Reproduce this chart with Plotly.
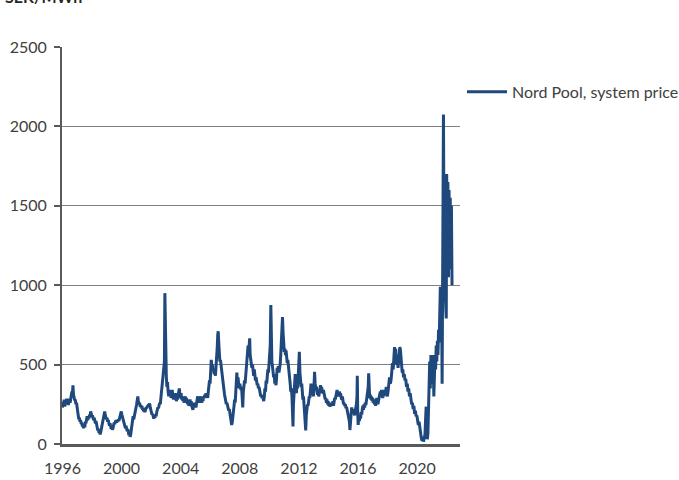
import plotly.graph_objects as go

# ---- data (decimal years, SEK/MWh) ----
years_1996_1999 = [
    1996.00, 1996.04, 1996.08, 1996.12, 1996.16, 1996.20, 1996.24, 1996.28, 1996.32, 1996.36, 1996.40, 1996.44, 1996.48,
    1996.52, 1996.56, 1996.60, 1996.64, 1996.68, 1996.71, 1996.75, 1996.79, 1996.83, 1996.87, 1996.91, 1996.95, 1996.99,
    1997.03, 1997.07, 1997.11, 1997.15, 1997.19, 1997.23, 1997.27, 1997.31, 1997.35, 1997.39, 1997.43, 1997.47, 1997.51,
    1997.55, 1997.59, 1997.63, 1997.67, 1997.71, 1997.75, 1997.79, 1997.83, 1997.87, 1997.91, 1997.95, 1997.99,
    1998.03, 1998.07, 1998.11, 1998.15, 1998.19, 1998.23, 1998.27, 1998.31, 1998.35, 1998.39, 1998.43, 1998.47, 1998.51,
    1998.55, 1998.59, 1998.63, 1998.67, 1998.71, 1998.75, 1998.79, 1998.83, 1998.86, 1998.90, 1998.94, 1998.98,
    1999.02, 1999.06, 1999.10, 1999.14, 1999.18, 1999.22, 1999.26, 1999.30, 1999.34, 1999.38, 1999.42, 1999.46, 1999.50,
    1999.54, 1999.58, 1999.62, 1999.66, 1999.70, 1999.74, 1999.78, 1999.82, 1999.86, 1999.90, 1999.94, 1999.98,
]
price_1996_1999 = [
    230, 265, 245, 280, 235, 270, 250, 285, 260, 275, 245, 270, 285,
    260, 300, 290, 330, 320, 370, 310, 290, 275, 280, 250, 260, 215,
    200, 180, 155, 165, 140, 150, 125, 135, 110, 120, 100, 115, 105,
    140, 130, 160, 175, 150, 170, 160, 185, 175, 205, 190, 170,
    180, 160, 150, 165, 140, 130, 145, 120, 100, 85, 95, 70, 80,
    60, 75, 95, 120, 140, 160, 175, 190, 205, 180, 170, 155,
    165, 140, 150, 125, 115, 130, 105, 95, 110, 90, 100, 120, 135,
    125, 145, 150, 135, 150, 140, 155, 145, 165, 180, 195, 205,
]

years_2000_2005 = [
    2000.02, 2000.06, 2000.10, 2000.14, 2000.18, 2000.22, 2000.26, 2000.30, 2000.34, 2000.38, 2000.42, 2000.46, 2000.50,
    2000.54, 2000.58, 2000.62, 2000.66, 2000.70, 2000.74, 2000.78, 2000.82, 2000.86, 2000.90, 2000.94, 2000.98,
    2001.02, 2001.06, 2001.10, 2001.14, 2001.18, 2001.22, 2001.26, 2001.30, 2001.34, 2001.38, 2001.42, 2001.46, 2001.50,
    2001.54, 2001.58, 2001.62, 2001.66, 2001.70, 2001.74, 2001.78, 2001.82, 2001.86, 2001.90, 2001.94, 2001.98,
    2002.02, 2002.06, 2002.10, 2002.14, 2002.18, 2002.22, 2002.26, 2002.30, 2002.34, 2002.38, 2002.42, 2002.46, 2002.50,
    2002.54, 2002.58, 2002.62, 2002.66, 2002.70, 2002.74, 2002.78, 2002.82, 2002.86, 2002.90, 2002.93, 2002.96, 2002.99,
    2003.03, 2003.07, 2003.11, 2003.15, 2003.19, 2003.23, 2003.27, 2003.31, 2003.35, 2003.39, 2003.43, 2003.47, 2003.51,
    2003.55, 2003.59, 2003.63, 2003.67, 2003.71, 2003.75, 2003.79, 2003.83, 2003.87, 2003.91, 2003.95, 2003.99,
    2004.03, 2004.07, 2004.11, 2004.15, 2004.19, 2004.23, 2004.27, 2004.31, 2004.35, 2004.39, 2004.43, 2004.47, 2004.51,
    2004.55, 2004.59, 2004.63, 2004.67, 2004.71, 2004.75, 2004.79, 2004.83, 2004.87, 2004.91, 2004.95, 2004.99,
    2005.03, 2005.07, 2005.11, 2005.15, 2005.19, 2005.23, 2005.27, 2005.31, 2005.35, 2005.39, 2005.43, 2005.47, 2005.51,
    2005.55, 2005.59, 2005.63, 2005.67, 2005.71, 2005.75, 2005.79, 2005.83, 2005.87, 2005.91, 2005.95, 2005.99,
]
price_2000_2005 = [
    185, 170, 150, 135, 120, 110, 100, 115, 90, 80, 95, 70, 55,
    65, 45, 60, 90, 120, 160, 175, 155, 170, 195, 215, 230,
    250, 270, 300, 265, 250, 260, 235, 245, 225, 240, 215, 225, 205,
    220, 200, 215, 230, 225, 240, 235, 250, 245, 255, 230, 210,
    200, 185, 190, 170, 160, 175, 165, 185, 175, 200, 215, 230, 225,
    245, 260, 250, 290, 310, 340, 380, 420, 450, 520, 950, 650, 440,
    420, 360, 390, 330, 300, 340, 310, 330, 290, 320, 340, 300, 280,
    310, 290, 320, 300, 270, 290, 280, 310, 330, 350, 310, 290,
    320, 280, 300, 270, 290, 260, 280, 300, 275, 290, 270, 250, 265,
    240, 260, 280, 250, 270, 240, 225, 215, 240, 260, 230, 250,
    230, 260, 280, 300, 270, 290, 260, 280, 300, 275, 260, 285, 270,
    300, 290, 310, 290, 320, 300, 310, 290, 330, 360, 400, 380,
]

years_2006_2011 = [
    2006.03, 2006.07, 2006.11, 2006.15, 2006.19, 2006.23, 2006.27, 2006.31, 2006.35, 2006.39, 2006.43, 2006.47, 2006.51,
    2006.54, 2006.57, 2006.61, 2006.65, 2006.69, 2006.73, 2006.77, 2006.81, 2006.85, 2006.89, 2006.93, 2006.97,
    2007.01, 2007.05, 2007.09, 2007.13, 2007.17, 2007.21, 2007.25, 2007.29, 2007.33, 2007.37, 2007.41, 2007.45, 2007.49,
    2007.53, 2007.57, 2007.61, 2007.65, 2007.69, 2007.73, 2007.77, 2007.80, 2007.84, 2007.88, 2007.92, 2007.96,
    2008.00, 2008.04, 2008.08, 2008.12, 2008.16, 2008.20, 2008.24, 2008.28, 2008.32, 2008.36, 2008.40, 2008.44, 2008.48,
    2008.52, 2008.56, 2008.60, 2008.64, 2008.67, 2008.70, 2008.74, 2008.78, 2008.82, 2008.86, 2008.90, 2008.94, 2008.98,
    2009.02, 2009.06, 2009.10, 2009.14, 2009.18, 2009.22, 2009.26, 2009.30, 2009.34, 2009.38, 2009.42, 2009.46, 2009.50,
    2009.54, 2009.58, 2009.62, 2009.66, 2009.70, 2009.74, 2009.78, 2009.82, 2009.86, 2009.90, 2009.94, 2009.98,
    2010.02, 2010.06, 2010.10, 2010.13, 2010.17, 2010.21, 2010.25, 2010.29, 2010.33, 2010.37, 2010.41, 2010.45, 2010.49,
    2010.53, 2010.57, 2010.61, 2010.65, 2010.69, 2010.73, 2010.77, 2010.81, 2010.85, 2010.89, 2010.93, 2010.97,
    2011.01, 2011.05, 2011.09, 2011.13, 2011.17, 2011.21, 2011.25, 2011.29, 2011.33, 2011.37, 2011.41, 2011.45, 2011.49,
    2011.53, 2011.57, 2011.60, 2011.63, 2011.67, 2011.71, 2011.75, 2011.79, 2011.83, 2011.87, 2011.91, 2011.95, 2011.99,
]
price_2006_2011 = [
    450, 530, 480, 500, 460, 470, 440, 450, 430, 470, 520, 600, 690,
    710, 650, 560, 520, 530, 490, 500, 450, 420, 380, 340, 310,
    290, 270, 250, 260, 235, 240, 210, 220, 195, 170, 150, 120, 135,
    160, 200, 240, 280, 260, 330, 400, 450, 380, 420, 380, 350,
    380, 360, 340, 360, 300, 230, 330, 380, 400, 380, 420, 480, 500,
    560, 620, 580, 650, 665, 560, 520, 500, 480, 500, 460, 430, 470,
    440, 400, 420, 390, 370, 380, 350, 360, 330, 320, 300, 310, 290,
    300, 280, 270, 300, 350, 330, 400, 380, 430, 470, 450, 500,
    560, 620, 875, 640, 520, 490, 450, 420, 440, 380, 400, 370, 420,
    480, 460, 490, 450, 470, 500, 560, 650, 740, 800, 700, 620,
    580, 600, 560, 590, 540, 510, 530, 500, 470, 420, 380, 330, 350,
    300, 200, 110, 250, 300, 330, 440, 350, 320, 380, 350, 420, 520,
]

years_2012_2017 = [
    2012.03, 2012.07, 2012.11, 2012.15, 2012.19, 2012.23, 2012.27, 2012.31, 2012.35, 2012.39, 2012.43, 2012.46, 2012.50,
    2012.54, 2012.58, 2012.62, 2012.66, 2012.70, 2012.74, 2012.78, 2012.82, 2012.86, 2012.90, 2012.94, 2012.98,
    2013.02, 2013.06, 2013.10, 2013.14, 2013.18, 2013.22, 2013.26, 2013.30, 2013.34, 2013.38, 2013.42, 2013.46, 2013.50,
    2013.54, 2013.58, 2013.62, 2013.66, 2013.70, 2013.74, 2013.78, 2013.82, 2013.86, 2013.90, 2013.94, 2013.98,
    2014.02, 2014.06, 2014.10, 2014.14, 2014.18, 2014.22, 2014.26, 2014.30, 2014.34, 2014.38, 2014.42, 2014.46, 2014.50,
    2014.54, 2014.58, 2014.62, 2014.66, 2014.70, 2014.74, 2014.78, 2014.82, 2014.86, 2014.90, 2014.94, 2014.98,
    2015.02, 2015.06, 2015.10, 2015.14, 2015.18, 2015.22, 2015.26, 2015.30, 2015.34, 2015.38, 2015.42, 2015.45, 2015.49,
    2015.53, 2015.57, 2015.61, 2015.65, 2015.69, 2015.73, 2015.77, 2015.81, 2015.85, 2015.89, 2015.93, 2015.95, 2015.98,
    2016.01, 2016.05, 2016.09, 2016.13, 2016.17, 2016.21, 2016.25, 2016.29, 2016.33, 2016.37, 2016.41, 2016.45, 2016.49,
    2016.53, 2016.57, 2016.61, 2016.65, 2016.69, 2016.72, 2016.75, 2016.79, 2016.83, 2016.87, 2016.91, 2016.95, 2016.99,
    2017.03, 2017.07, 2017.11, 2017.15, 2017.19, 2017.23, 2017.27, 2017.31, 2017.35, 2017.39, 2017.43, 2017.47, 2017.51,
    2017.55, 2017.59, 2017.63, 2017.67, 2017.71, 2017.75, 2017.79, 2017.83, 2017.87, 2017.91, 2017.95, 2017.99,
]
price_2012_2017 = [
    580, 450, 400, 360, 380, 330, 280, 300, 250, 230, 150, 85, 180,
    220, 250, 240, 270, 300, 290, 330, 380, 340, 310, 330, 300,
    360, 455, 380, 350, 360, 330, 310, 340, 300, 320, 350, 370, 340,
    360, 330, 320, 340, 310, 300, 280, 290, 260, 280, 250, 270,
    240, 260, 235, 250, 240, 260, 245, 270, 240, 265, 290, 280, 300,
    320, 340, 310, 320, 300, 330, 310, 320, 290, 280, 300, 270,
    250, 260, 240, 250, 225, 235, 210, 200, 180, 160, 140, 88, 170,
    200, 230, 210, 190, 220, 200, 180, 210, 230, 250, 300, 430, 200,
    120, 170, 145, 180, 160, 200, 185, 220, 240, 215, 250, 230, 260,
    245, 270, 290, 320, 360, 445, 320, 290, 310, 280, 300, 270, 290,
    260, 280, 250, 270, 240, 265, 290, 270, 250, 275, 290, 300, 330,
    300, 340, 310, 290, 320, 300, 340, 310, 330, 360, 320, 300,
]

years_2018_2022 = [
    2018.03, 2018.08, 2018.13, 2018.18, 2018.23, 2018.28, 2018.33, 2018.38, 2018.43, 2018.47, 2018.51, 2018.55,
    2018.59, 2018.63, 2018.67, 2018.71, 2018.75, 2018.79, 2018.83, 2018.87, 2018.91, 2018.95, 2018.99,
    2019.03, 2019.08, 2019.13, 2019.18, 2019.23, 2019.28, 2019.33, 2019.38, 2019.43, 2019.48,
    2019.53, 2019.58, 2019.63, 2019.68, 2019.73, 2019.78, 2019.83, 2019.88, 2019.93, 2019.98,
    2020.03, 2020.08, 2020.13, 2020.18, 2020.23, 2020.28, 2020.33, 2020.38, 2020.43, 2020.48, 2020.53,
    2020.57, 2020.61, 2020.65, 2020.69, 2020.73, 2020.77, 2020.81, 2020.85, 2020.89, 2020.93, 2020.97,
    2021.01, 2021.05, 2021.09, 2021.13, 2021.17, 2021.21, 2021.25, 2021.29, 2021.33, 2021.37, 2021.41, 2021.45,
    2021.49, 2021.53, 2021.57, 2021.61, 2021.65, 2021.69, 2021.73, 2021.78, 2021.83, 2021.88, 2021.93, 2021.97,
    2022.00, 2022.04, 2022.08, 2022.12, 2022.16, 2022.20, 2022.24, 2022.28, 2022.32, 2022.36,
]
price_2018_2022 = [
    330, 360, 420, 380, 400, 450, 510, 470, 560, 610, 540, 600,
    500, 560, 520, 480, 530, 560, 610, 590, 520, 480, 450,
    470, 420, 440, 400, 410, 360, 380, 330, 350, 300,
    320, 280, 250, 260, 220, 240, 190, 210, 175, 180,
    150, 120, 140, 90, 60, 40, 20, 45, 15, 30, 60,
    150, 235, 120, 30, 70, 200, 380, 520, 350, 560, 420,
    560, 380, 500, 300, 460, 560, 470, 620, 520, 650, 560, 720,
    640, 900, 990, 880, 970, 380, 950, 2075, 1100, 1000, 850, 790,
    1700, 1200, 1650, 1050, 1600, 1250, 1550, 1100, 1500, 1000,
]

series_name = "Nord Pool, system price"
unit_label = "SEK/MWh"
y_ticks = [0, 500, 1000, 1500, 2000, 2500]
x_tick_years = [1996, 2000, 2004, 2008, 2012, 2016, 2020]
x_tick_labels = ["1996", "2000", "2004", "2008", "2012", "2016", "2020"]

years = years_1996_1999 + years_2000_2005 + years_2006_2011 + years_2012_2017 + years_2018_2022
price = price_1996_1999 + price_2000_2005 + price_2006_2011 + price_2012_2017 + price_2018_2022
assert len(years) == len(price), (len(years), len(price))

FONT = "Lato, 'Open Sans', sans-serif"
TXT = "#404040"
AXIS = "#595959"

fig = go.Figure()
fig.add_trace(go.Scatter(
    x=years, y=price, mode="lines", name=series_name,
    line=dict(color="#1F497D", width=3),
    hoverinfo="x+y",
))

fig.update_layout(
    width=679, height=480,
    margin=dict(l=62, r=219, t=47, b=36, autoexpand=False),
    paper_bgcolor="white", plot_bgcolor="white",
    font=dict(family=FONT, size=16, color=TXT),
    showlegend=True,
    legend=dict(
        x=1.005, xanchor="left", y=0.887, yanchor="middle",
        font=dict(family=FONT, size=16, color=TXT),
        bgcolor="rgba(0,0,0,0)", borderwidth=0,
        itemwidth=40,
    ),
    annotations=[dict(
        text="<b>" + unit_label + "</b>", xref="paper", yref="paper",
        x=-0.148, y=1.098, xanchor="left", yanchor="bottom", showarrow=False,
        font=dict(family=FONT, size=16, color="#262626"),
    )],
)

fig.update_xaxes(
    range=[1995.97, 2022.9],
    tickvals=x_tick_years, ticktext=x_tick_labels,
    showgrid=False, zeroline=False, automargin=False,
    showline=True, linecolor=AXIS, linewidth=2.5,
    ticks="", ticklabelstandoff=8,
    tickfont=dict(family=FONT, size=16, color=TXT),
)
fig.update_yaxes(
    range=[0, 2500],
    tickvals=y_ticks, automargin=False,
    showgrid=True, gridcolor="#808080", gridwidth=1.3,
    zeroline=False,
    showline=True, linecolor=AXIS, linewidth=2,
    ticks="outside", ticklen=6, tickwidth=1.5, tickcolor=AXIS,
    ticklabelstandoff=4,
    tickfont=dict(family=FONT, size=16, color=TXT),
)

fig.write_html(
    "out.html",
    config={"displayModeBar": False},
    post_script="document.body.style.margin='0';",
)
